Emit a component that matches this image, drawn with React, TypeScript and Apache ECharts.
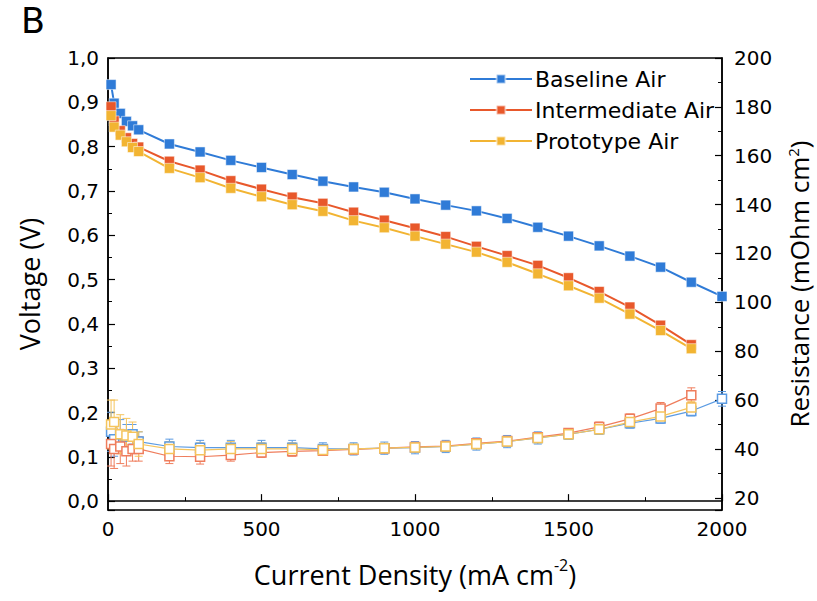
import React, { useEffect, useRef } from "react";
import * as echarts from "echarts";

const currents = [10, 20, 40, 60, 80, 100, 200, 300, 400, 500, 600, 700, 800, 900, 1000, 1100, 1200, 1300, 1400, 1500, 1600, 1700, 1800, 1900, 2000];

const baselineV = [0.94, 0.898, 0.875, 0.857, 0.847, 0.838, 0.806, 0.788, 0.769, 0.753, 0.737, 0.722, 0.709, 0.697, 0.682, 0.668, 0.655, 0.638, 0.618, 0.598, 0.576, 0.553, 0.528, 0.494, 0.462];
const intermediateV = [0.89, 0.858, 0.836, 0.82, 0.807, 0.799, 0.767, 0.747, 0.723, 0.704, 0.686, 0.672, 0.652, 0.634, 0.616, 0.597, 0.575, 0.554, 0.532, 0.504, 0.473, 0.438, 0.397, 0.353];
const prototypeV = [0.87, 0.844, 0.826, 0.811, 0.798, 0.789, 0.751, 0.73, 0.706, 0.687, 0.669, 0.654, 0.633, 0.617, 0.598, 0.58, 0.562, 0.539, 0.513, 0.486, 0.458, 0.422, 0.385, 0.344];

const baselineR = [47, 44, 46, 45, 46, 43, 41, 40.5, 40.5, 40.5, 40.5, 40, 40, 40.3, 40.5, 41, 42, 43, 44.5, 46, 48, 50.5, 52.5, 55.5, 60.5];
const intermediateR = [42, 40, 41, 39, 40, 40, 37, 36.8, 37.5, 38.5, 39, 39.3, 39.8, 40.3, 40.8, 41.2, 42.3, 43.2, 44.8, 46.5, 49, 52.3, 56.5, 62];
const prototypeR = [50, 51, 46, 45.5, 45, 42, 40, 39.5, 40, 40, 40, 39.6, 40, 40.3, 40.6, 41, 42, 43, 44.5, 46, 48, 51, 53.3, 57];

const baselineRErr = [8, 7, 6, 5, 4, 4, 3, 3, 3, 3, 3, 2.5, 2.5, 2.5, 2.5, 2.5, 2.5, 2.5, 2.5, 2, 2, 2, 2, 2, 3];
const intermediateRErr = [9, 8, 7, 6, 5, 5, 3, 3, 2.5, 2, 2, 1.5, 1.5, 1.5, 1.5, 1.5, 1.5, 1.5, 1.5, 1.5, 2, 2, 2.5, 3];
const prototypeRErr = [10, 9, 8, 7, 6, 5, 3, 3, 3, 2.5, 2.5, 2, 2, 2, 2, 2, 2, 2, 2, 2, 2, 2, 2, 2.5];

const seriesNames = ["Baseline Air", "Intermediate Air", "Prototype Air"];
const colors = ["#2f7bd7", "#e8582b", "#f2b432"];
const lightColors = ["#5b9be3", "#ef7d5c", "#f5c45c"];

const TICK_FONT = "DejaVu Sans";
const TITLE_FONT = "Open Sans";

function pairs(xs: number[], ys: number[]) {
  return ys.map((y, i) => [xs[i], y]);
}

function errSeries(name: string, ys: number[], errs: number[], color: string) {
  return {
    name,
    type: "custom",
    yAxisIndex: 1,
    silent: true,
    z: 1,
    data: ys.map((y, i) => [currents[i], y - errs[i], y + errs[i]]),
    encode: { x: 0, y: [1, 2] },
    renderItem: (params: any, api: any) => {
      const x = api.value(0);
      const lo = api.coord([x, api.value(1)]);
      const hi = api.coord([x, api.value(2)]);
      const w = 4;
      const st = { stroke: color, lineWidth: 1 };
      return {
        type: "group",
        children: [
          { type: "line", shape: { x1: lo[0], y1: lo[1], x2: hi[0], y2: hi[1] }, style: st },
          { type: "line", shape: { x1: lo[0] - w, y1: lo[1], x2: lo[0] + w, y2: lo[1] }, style: st },
          { type: "line", shape: { x1: hi[0] - w, y1: hi[1], x2: hi[0] + w, y2: hi[1] }, style: st },
        ],
      };
    },
  };
}

function makeTitleStyle(size: number, supSize: number, lh: number) {
  return {
    fontFamily: TITLE_FONT,
    fontSize: size,
    color: "#000",
    lineHeight: lh,
    rich: {
      n: { fontFamily: TITLE_FONT, fontSize: size, color: "#000", lineHeight: lh },
      sup: { fontFamily: TITLE_FONT, fontSize: supSize, color: "#000", verticalAlign: "top", lineHeight: lh },
    },
  };
}

export default function App() {
  const ref = useRef<HTMLDivElement>(null);
  useEffect(() => {
    if (!ref.current) return;
    const chart = echarts.init(ref.current, undefined, { renderer: "svg" });
    const vData = [baselineV, intermediateV, prototypeV];
    const rData = [baselineR, intermediateR, prototypeR];
    const rErr = [baselineRErr, intermediateRErr, prototypeRErr];

    const series: any[] = [];
    for (let k = 0; k < 3; k++) {
      series.push(errSeries(seriesNames[k] + " R err", rData[k], rErr[k], lightColors[k]));
    }
    for (let k = 0; k < 3; k++) {
      series.push({
        name: seriesNames[k] + " R",
        type: "line",
        yAxisIndex: 1,
        data: pairs(currents, rData[k]),
        symbol: "rect",
        symbolSize: 9,
        showSymbol: true,
        z: 2,
        lineStyle: { color: lightColors[k], width: 1.2 },
        itemStyle: { color: "#ffffff", borderColor: lightColors[k], borderWidth: 1.5 },
      });
    }
    for (let k = 0; k < 3; k++) {
      series.push({
        name: seriesNames[k],
        type: "line",
        yAxisIndex: 0,
        data: pairs(currents, vData[k]),
        symbol: "rect",
        symbolSize: 10,
        z: 3,
        lineStyle: { color: colors[k], width: 2 },
        itemStyle: { color: colors[k], borderColor: "rgba(255,255,255,0.5)", borderWidth: 1 },
      });
    }

    chart.setOption({
      animation: false,
      backgroundColor: "#ffffff",
      graphic: [
        {
          type: "text",
          left: 21,
          top: 3,
          style: { text: "B", fontFamily: TICK_FONT, fontSize: 35, fill: "#000" },
        },
      ],
      legend: {
        data: seriesNames,
        orient: "vertical",
        left: 464,
        top: 63,
        itemWidth: 62,
        itemHeight: 11,
        itemGap: 9,
        textStyle: { fontFamily: TICK_FONT, fontSize: 22, color: "#000", padding: [0, 0, 0, -2] },
      },
      grid: {
        left: 108,
        top: 58,
        width: 614,
        height: 452,
        show: true,
        borderColor: "#000",
        borderWidth: 1.5,
        backgroundColor: "transparent",
        containLabel: false,
        outerBoundsMode: "none",
      },
      xAxis: {
        type: "value",
        min: 0,
        max: 2000,
        interval: 500,
        name: "{n|Current Density (mA cm}{sup|-2}{n|)}",
        nameLocation: "middle",
        nameGap: 47,
        nameTextStyle: makeTitleStyle(27, 16, 34),
        axisLine: { show: true, lineStyle: { color: "#000", width: 1.5 } },
        axisTick: { show: true, inside: true, length: 7, lineStyle: { color: "#000", width: 1.2 } },
        minorTick: { show: true, splitNumber: 2, length: 4, lineStyle: { color: "#000", width: 1 } },
        splitLine: { show: false },
        axisLabel: {
          fontFamily: TICK_FONT,
          fontSize: 20,
          color: "#000",
          margin: 9,
          formatter: (v: number) => String(Math.round(v)),
        },
      },
      yAxis: [
        {
          type: "value",
          min: -0.02,
          max: 1.0,
          splitNumber: 10,
          minInterval: 0.1,
          maxInterval: 0.1,
          position: "left",
          name: "Voltage (V)",
          nameLocation: "middle",
          nameGap: 62,
          nameTextStyle: makeTitleStyle(27, 16, 34),
          axisLine: { show: true, lineStyle: { color: "#000", width: 1.5 } },
          axisTick: { show: true, inside: true, length: 7, lineStyle: { color: "#000", width: 1.2 } },
          minorTick: { show: true, splitNumber: 2, length: 4, lineStyle: { color: "#000", width: 1 } },
          splitLine: { show: false },
          axisLabel: {
            fontFamily: TICK_FONT,
            fontSize: 20,
            color: "#000",
            margin: 9,
            showMinLabel: false,
            formatter: (v: number) => (Math.abs(v) < 1e-9 ? 0 : v).toFixed(1).replace(".", ","),
          },
        },
        {
          type: "value",
          min: 15,
          max: 200,
          splitNumber: 9,
          minInterval: 20,
          maxInterval: 20,
          position: "right",
          name: "{n|Resistance (mOhm cm}{sup|2}{n|)}",
          nameLocation: "middle",
          nameGap: 63,
          nameTextStyle: makeTitleStyle(26, 15, 28),
          axisLine: { show: true, lineStyle: { color: "#000", width: 1.5 } },
          axisTick: { show: true, inside: true, length: 7, lineStyle: { color: "#000", width: 1.2 } },
          minorTick: { show: true, splitNumber: 2, length: 4, lineStyle: { color: "#000", width: 1 } },
          splitLine: { show: false },
          axisLabel: {
            fontFamily: TICK_FONT,
            fontSize: 20,
            color: "#000",
            margin: 12,
            showMinLabel: false,
            formatter: (v: number) => String(Math.round(v)),
          },
        },
      ],
      series,
    });
    return () => chart.dispose();
  }, []);
  return (
    <div
      ref={ref}
      style={{ position: "absolute", left: 0, top: 0, width: 817, height: 601, background: "#fff" }}
    />
  );
}
